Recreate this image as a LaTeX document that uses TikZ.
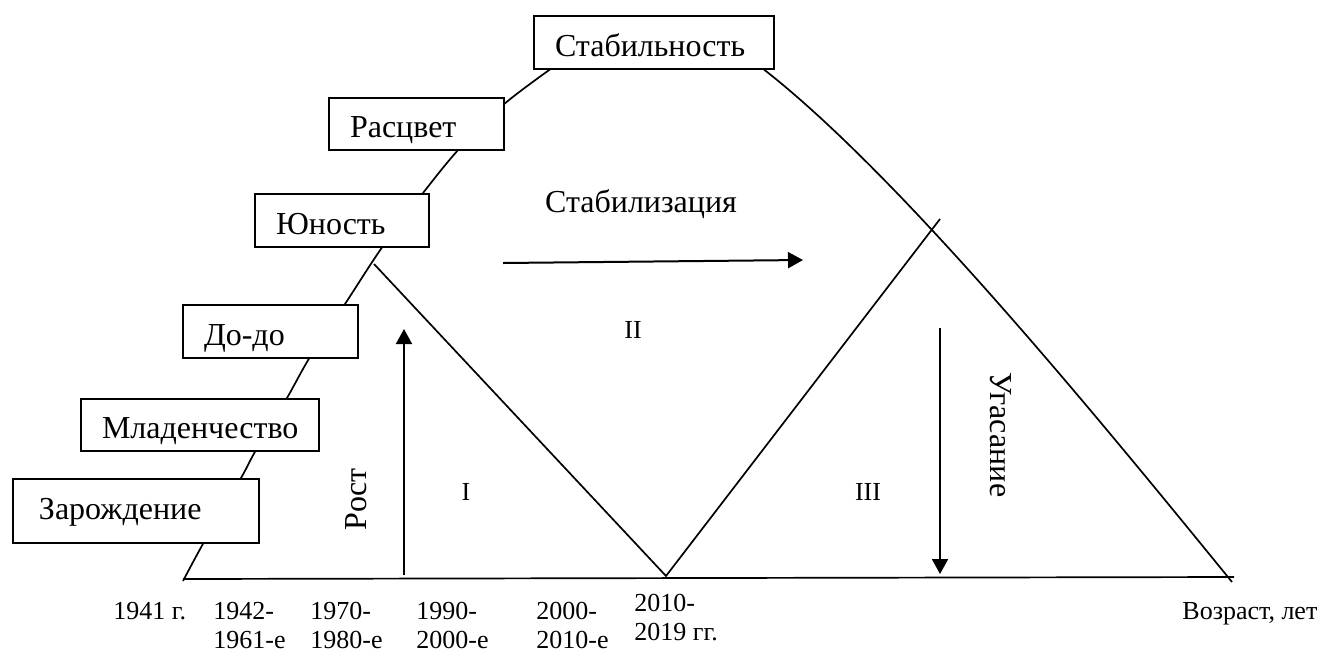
\documentclass[tikz,border=0pt]{standalone}
\usepackage{fontspec}
\setmainfont{Liberation Serif}
\usetikzlibrary{arrows.meta}
\begin{document}
\begin{tikzpicture}[x=0.5pt,y=-0.5pt,
  curveline/.style={line width=0.85pt},
  stagebox/.style={draw, line width=1pt, fill=white, anchor=north west,
    inner xsep=10.5pt, inner ysep=0pt, align=left,
    text height=13.5pt, text depth=0pt, font=\fontsize{16pt}{19pt}\selectfont},
  phaselbl/.style={font=\fontsize{16pt}{19pt}\selectfont, inner sep=0pt},
  numlbl/.style={font=\fontsize{13pt}{15pt}\selectfont, inner sep=0pt, anchor=base},
  yearlbl/.style={font=\fontsize{13pt}{15pt}\selectfont, inner sep=0pt, anchor=base west},
  arr/.style={line width=1pt, -{Triangle[length=7.5pt,width=8pt]}}]
\useasboundingbox (0,0) rectangle (1325,653);

% life-cycle curve (stage boxes are drawn over it)
\draw[curveline] plot[smooth, tension=0.55] coordinates {
  (183,581) (204,542) (241,478) (256,450) (287,398) (310,357) (345,304)
  (383,246) (423,193) (459,149) (503,105) (552,68)}
  .. controls (610,22) and (705,22) .. (762,68)
  .. controls (900,175) and (1100,420) .. (1232,582);

% age axis
\coordinate (ax0) at (183,579);
\coordinate (ax1) at (1234,577);
\draw[curveline] (ax0) -- (ax1);

% V between phases I, II, III
\coordinate (vL) at (374,264);
\coordinate (vB) at (666,576);
\coordinate (vR) at (940,219);
\draw[curveline] (vL) -- (vB) -- (vR);

% direction arrows
\coordinate (growB) at (404,575);
\coordinate (growT) at (404,329);
\draw[arr] (growB) -- (growT);
\coordinate (stabL) at (503,263);
\coordinate (stabR) at (803,260);
\draw[arr] (stabL) -- (stabR);
\coordinate (fadeT) at (940,328);
\coordinate (fadeB) at (940,574);
\draw[arr] (fadeT) -- (fadeB);

% stage boxes
\node[stagebox, text width=99pt, minimum height=26.5pt] (s6) at (533,15) {Стабильность};
\node[stagebox, text width=66.5pt, minimum height=26pt] (s5) at (328,97) {Расцвет};
\node[stagebox, text width=66pt, minimum height=26.5pt] (s4) at (254,193) {Юность};
\node[stagebox, text width=66.5pt, minimum height=26.5pt] (s3) at (182,304) {До-до};
\node[stagebox, text width=98pt, minimum height=26pt] (s2) at (80,398) {Младенчество};
\node[stagebox, inner xsep=13pt, text width=97pt, minimum height=32pt, text height=8pt] (s1) at (12,478) {Зарождение};

% phase labels
\node[phaselbl, anchor=base] (stabtxt) at (641,212) {Стабилизация};
\node[phaselbl, rotate=90] (growtxt) at (356,499) {Рост};
\node[phaselbl, rotate=-90] (fadetxt) at (1001,435) {Угасание};
\node[numlbl] (p1) at (466,500) {I};
\node[numlbl] (p2) at (633,338) {II};
\node[numlbl] (p3) at (868,500) {III};

% period labels under the axis
\node[yearlbl] (t0) at (113,619) {1941 г.};
\node[yearlbl] (t1a) at (213,619) {1942-};
\node[yearlbl] (t1b) at (213,648) {1961-е};
\node[yearlbl] (t2a) at (310,619) {1970-};
\node[yearlbl] (t2b) at (310,648) {1980-е};
\node[yearlbl] (t3a) at (416,619) {1990-};
\node[yearlbl] (t3b) at (416,648) {2000-е};
\node[yearlbl] (t4a) at (536,619) {2000-};
\node[yearlbl] (t4b) at (536,648) {2010-е};
\node[yearlbl] (t5a) at (634,611) {2010-};
\node[yearlbl] (t5b) at (634,640) {2019 гг.};
\node[yearlbl] (age) at (1182,619) {Возраст, лет};
\end{tikzpicture}
\end{document}
